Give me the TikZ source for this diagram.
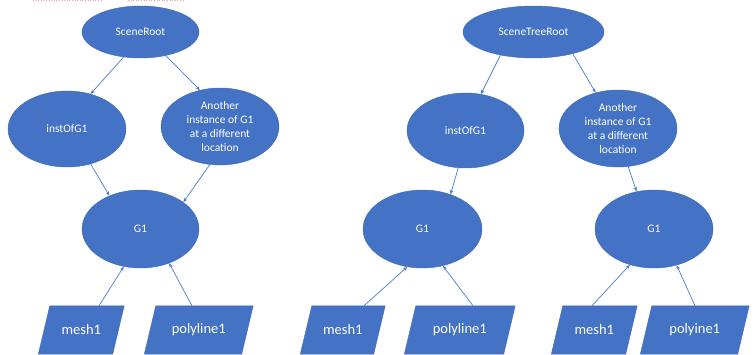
\documentclass[tikz,border=0pt]{standalone}
\usepackage{fontspec}
\setmainfont{Carlito}
\usetikzlibrary{shapes.geometric,arrows.meta,backgrounds}
\definecolor{officeblue}{HTML}{4472C4}
\definecolor{edgeblue}{HTML}{3F69B6}
\definecolor{arrowblue}{HTML}{4A7BD0}
\definecolor{spellred}{HTML}{F2A0A0}
\tikzset{
  elnode/.style={ellipse, fill=officeblue, draw=edgeblue, line width=0.4pt, inner sep=0pt,
    text=white, align=center, font=\fontsize{11.5}{14.3}\selectfont},
  databox/.style={rectangle, inner sep=0pt, minimum height=48pt,
    text=white, font=\fontsize{14.5}{17}\selectfont},
  paraback/.style={fill=officeblue, draw=edgeblue, line width=0.4pt},
  conn/.style={draw=arrowblue, line width=0.7pt, -{Stealth[length=4.5pt,width=3.6pt]}}
}
\newcommand{\paraof}[1]{%
  \begin{scope}[on background layer]
    \path[paraback] ([xshift=5.75pt]#1.north west) -- ([xshift=5.75pt]#1.north east)
      -- ([xshift=-5.75pt]#1.south east) -- ([xshift=-5.75pt]#1.south west) -- cycle;
  \end{scope}}
\begin{document}
\begin{tikzpicture}[x=1pt,y=1pt]
\useasboundingbox (0,0) rectangle (755,354);
% spell-check underline
\draw[spellred, line width=0.6pt, dotted] (33,353.5) -- (102,353.5);
\draw[spellred, line width=0.6pt, dotted] (128,353.5) -- (185,353.5);

% left tree
\node[elnode, minimum width=117pt, minimum height=52pt] (root1) at (140.5,322) {SceneRoot};
\node[elnode, minimum width=118pt, minimum height=76pt] (inst1) at (67,225) {instOfG1};
\node[elnode, minimum width=118pt, minimum height=77pt] (another1) at (220,227.5) {Another\\instance of G1\\at a different\\location};
\node[elnode, minimum width=117pt, minimum height=78pt] (g1a) at (140.5,125) {G1};
\node[databox, minimum width=74pt] (mesh1a) at (81.25,24) {mesh1};
\node[databox, minimum width=97pt] (poly1a) at (198.75,24) {polyline1};
\paraof{mesh1a}
\paraof{poly1a}

% right forest
\node[elnode, minimum width=141pt, minimum height=52pt] (root2) at (533.5,322) {SceneTreeRoot};
\node[elnode, minimum width=117pt, minimum height=75pt] (inst2) at (465.5,223.5) {instOfG1};
\node[elnode, minimum width=118pt, minimum height=77pt] (another2) at (618,225.5) {Another\\instance of G1\\at a different\\location};
\node[elnode, minimum width=119pt, minimum height=78pt] (g1b) at (422.5,125) {G1};
\node[elnode, minimum width=118pt, minimum height=78pt] (g1c) at (654,125) {G1};
\node[databox, minimum width=73pt] (mesh1b) at (342.75,24) {mesh1};
\node[databox, minimum width=99pt] (poly1b) at (459.75,24) {polyline1};
\node[databox, minimum width=74pt] (mesh1c) at (594.25,24) {mesh1};
\node[databox, minimum width=97pt] (poly1c) at (694.75,24) {polyine1};
\paraof{mesh1b}
\paraof{poly1b}
\paraof{mesh1c}
\paraof{poly1c}

% connectors left
\draw[conn] (root1.-124) -- (inst1.56.7);
\draw[conn] (root1.-43.3) -- (another1.119.9);
\draw[conn] (inst1.-56.3) -- (g1a.133.7);
\draw[conn] (another1.-105.9) -- (g1a.32.4);
\draw[conn] ([xshift=17.75pt]mesh1a.north) -- (g1a.-114);
\draw[conn] ([xshift=-6.75pt]poly1a.north) -- (g1a.-50.3);

% connectors right
\draw[conn] (root2.-145.9) -- (inst2.67.8);
\draw[conn] (root2.-29) -- (another2.122.2);
\draw[conn] (inst2.-101.3) -- (g1b.51.8);
\draw[conn] (another2.-75.4) -- (g1c.115.3);
\draw[conn] ([xshift=21.25pt]mesh1b.north) -- (g1b.-112.9);
\draw[conn] ([xshift=13.25pt]poly1b.north) -- (g1b.-61.7);
\draw[conn] ([xshift=-2.25pt]mesh1c.north) -- (g1c.-124.7);
\draw[conn] ([xshift=0.25pt]poly1c.north) -- (g1c.-58.4);
\end{tikzpicture}
\end{document}
